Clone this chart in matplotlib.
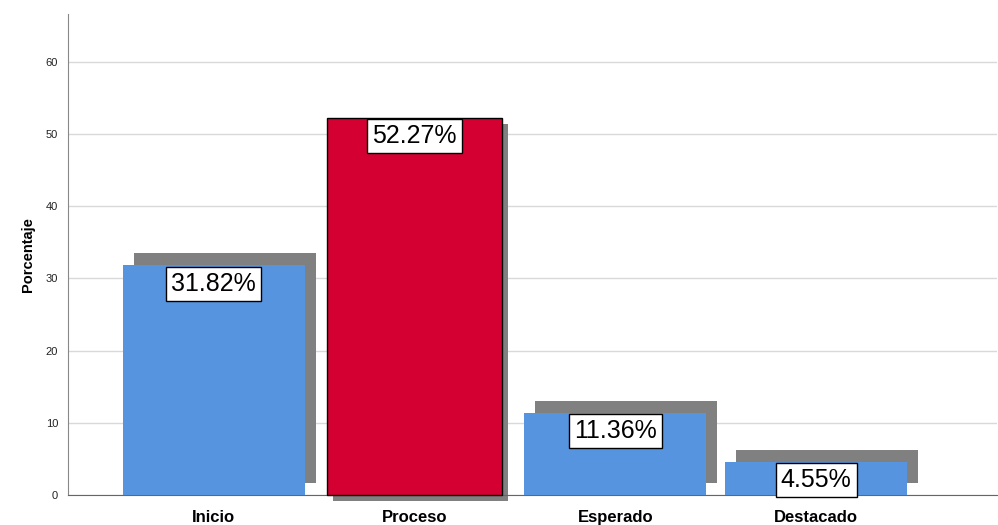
import matplotlib.pyplot as plt
import matplotlib.transforms as mtransforms

# data
categorias = ["Inicio", "Proceso", "Esperado", "Destacado"]
porcentajes = [31.82, 52.27, 11.36, 4.55]
etiquetas = ["31.82%", "52.27%", "11.36%", "4.55%"]

# style
azul = "#5694E0"
rojo = "#D50032"
sombra = "#808080"
colores = [azul, rojo, azul, azul]
resaltado = 1  # index of the highlighted bar (different shadow)

plt.rcParams['font.family'] = ['Liberation Sans', 'DejaVu Sans']

fig = plt.figure(figsize=(9.98, 5.25), dpi=100)
ax = fig.add_axes([0.068, 0.057, 0.931, 0.916])

x = list(range(len(categorias)))
ancho = 0.905

ax.set_axisbelow(True)
ax.yaxis.grid(True, color="#d9d9d9", lw=1)

for i, v in enumerate(porcentajes):
    if i == resaltado:
        dx, dy, w = 6, -6, 0.875
    else:
        dx, dy, w = 11, 12, ancho
    tr = mtransforms.offset_copy(ax.transData, fig=fig, x=dx, y=dy, units='dots')
    ax.bar(i, v, width=w, color=sombra, transform=tr, clip_on=False, zorder=2)
    ax.bar(i, v, width=w, color=colores[i], zorder=3,
           edgecolor="black" if i == resaltado else colores[i],
           linewidth=1 if i == resaltado else 0, clip_on=False)
    ax.annotate(etiquetas[i], xy=(i, v), xytext=(0, -4.5), textcoords='offset points',
                ha='center', va='top', fontsize=18, zorder=5, annotation_clip=False,
                bbox=dict(boxstyle='square,pad=0.2', fc='white', ec='black', lw=1))

ax.set_xlim(-0.726, 3.9)
ax.set_ylim(0, 66.6)
ax.set_yticks([0, 10, 20, 30, 40, 50, 60])
ax.set_xticks(x)
ax.set_xticklabels(categorias, fontsize=12, fontweight='bold')
ax.tick_params(axis='x', length=0, pad=11)
ax.tick_params(axis='y', length=0, pad=7, labelsize=8, labelcolor="#222222")
ax.set_ylabel("Porcentaje", fontsize=10.5, fontweight='bold', labelpad=8)

ax.spines['top'].set_visible(False)
ax.spines['right'].set_visible(False)
ax.spines['left'].set_color("#888888")
ax.spines['bottom'].set_color("#666666")

plt.savefig("out.png", dpi=100)
